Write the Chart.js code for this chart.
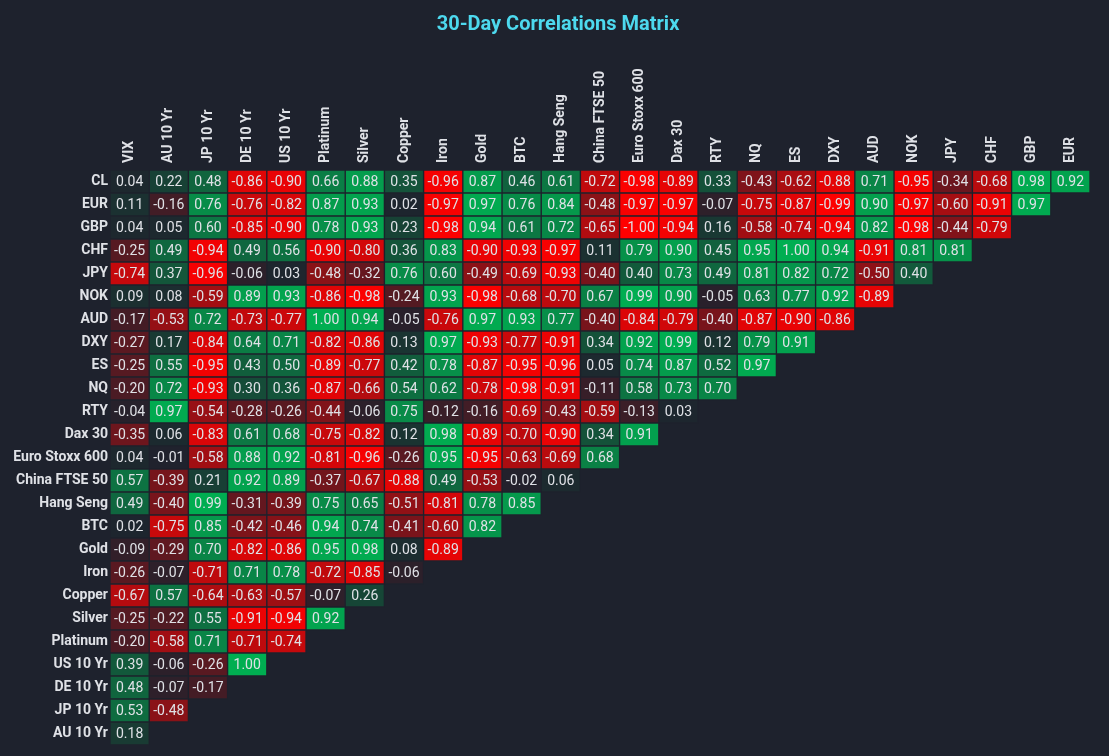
<!DOCTYPE html>
<html>
<head>
<meta charset="utf-8">
<title>30-Day Correlations Matrix</title>
<script src="https://cdn.jsdelivr.net/npm/chart.js@4.4.1/dist/chart.umd.min.js"></script>
<style>
  html, body { margin: 0; padding: 0; background: #1e222d; }
  .wrap { width: 1109px; height: 756px; position: relative; }
</style>
</head>
<body>
<div class="wrap"><canvas id="matrix"></canvas></div>
<script>
// columns across the top, rows down the left side
const columns = ['VIX', 'AU 10 Yr', 'JP 10 Yr', 'DE 10 Yr', 'US 10 Yr', 'Platinum', 'Silver', 'Copper',
    'Iron', 'Gold', 'BTC', 'Hang Seng', 'China FTSE 50', 'Euro Stoxx 600', 'Dax 30', 'RTY', 'NQ', 'ES',
    'DXY', 'AUD', 'NOK', 'JPY', 'CHF', 'GBP', 'EUR'];

const rows = ['CL', 'EUR', 'GBP', 'CHF', 'JPY', 'NOK', 'AUD', 'DXY', 'ES', 'NQ', 'RTY', 'Dax 30',
    'Euro Stoxx 600', 'China FTSE 50', 'Hang Seng', 'BTC', 'Gold', 'Iron', 'Copper', 'Silver',
    'Platinum', 'US 10 Yr', 'DE 10 Yr', 'JP 10 Yr', 'AU 10 Yr'];

// one list per row, in column order (triangle, so rows get shorter)
const correlations = [
    [0.04, 0.22, 0.48, -0.86, -0.90, 0.66, 0.88, 0.35, -0.96, 0.87, 0.46, 0.61, -0.72, -0.98, -0.89, 0.33, -0.43, -0.62, -0.88, 0.71, -0.95, -0.34, -0.68, 0.98, 0.92],
    [0.11, -0.16, 0.76, -0.76, -0.82, 0.87, 0.93, 0.02, -0.97, 0.97, 0.76, 0.84, -0.48, -0.97, -0.97, -0.07, -0.75, -0.87, -0.99, 0.90, -0.97, -0.60, -0.91, 0.97],
    [0.04, 0.05, 0.60, -0.85, -0.90, 0.78, 0.93, 0.23, -0.98, 0.94, 0.61, 0.72, -0.65, -1.00, -0.94, 0.16, -0.58, -0.74, -0.94, 0.82, -0.98, -0.44, -0.79],
    [-0.25, 0.49, -0.94, 0.49, 0.56, -0.90, -0.80, 0.36, 0.83, -0.90, -0.93, -0.97, 0.11, 0.79, 0.90, 0.45, 0.95, 1.00, 0.94, -0.91, 0.81, 0.81],
    [-0.74, 0.37, -0.96, -0.06, 0.03, -0.48, -0.32, 0.76, 0.60, -0.49, -0.69, -0.93, -0.40, 0.40, 0.73, 0.49, 0.81, 0.82, 0.72, -0.50, 0.40],
    [0.09, 0.08, -0.59, 0.89, 0.93, -0.86, -0.98, -0.24, 0.93, -0.98, -0.68, -0.70, 0.67, 0.99, 0.90, -0.05, 0.63, 0.77, 0.92, -0.89],
    [-0.17, -0.53, 0.72, -0.73, -0.77, 1.00, 0.94, -0.05, -0.76, 0.97, 0.93, 0.77, -0.40, -0.84, -0.79, -0.40, -0.87, -0.90, -0.86],
    [-0.27, 0.17, -0.84, 0.64, 0.71, -0.82, -0.86, 0.13, 0.97, -0.93, -0.77, -0.91, 0.34, 0.92, 0.99, 0.12, 0.79, 0.91],
    [-0.25, 0.55, -0.95, 0.43, 0.50, -0.89, -0.77, 0.42, 0.78, -0.87, -0.95, -0.96, 0.05, 0.74, 0.87, 0.52, 0.97],
    [-0.20, 0.72, -0.93, 0.30, 0.36, -0.87, -0.66, 0.54, 0.62, -0.78, -0.98, -0.91, -0.11, 0.58, 0.73, 0.70],
    [-0.04, 0.97, -0.54, -0.28, -0.26, -0.44, -0.06, 0.75, -0.12, -0.16, -0.69, -0.43, -0.59, -0.13, 0.03],
    [-0.35, 0.06, -0.83, 0.61, 0.68, -0.75, -0.82, 0.12, 0.98, -0.89, -0.70, -0.90, 0.34, 0.91],
    [0.04, -0.01, -0.58, 0.88, 0.92, -0.81, -0.96, -0.26, 0.95, -0.95, -0.63, -0.69, 0.68],
    [0.57, -0.39, 0.21, 0.92, 0.89, -0.37, -0.67, -0.88, 0.49, -0.53, -0.02, 0.06],
    [0.49, -0.40, 0.99, -0.31, -0.39, 0.75, 0.65, -0.51, -0.81, 0.78, 0.85],
    [0.02, -0.75, 0.85, -0.42, -0.46, 0.94, 0.74, -0.41, -0.60, 0.82],
    [-0.09, -0.29, 0.70, -0.82, -0.86, 0.95, 0.98, 0.08, -0.89],
    [-0.26, -0.07, -0.71, 0.71, 0.78, -0.72, -0.85, -0.06],
    [-0.67, 0.57, -0.64, -0.63, -0.57, -0.07, 0.26],
    [-0.25, -0.22, 0.55, -0.91, -0.94, 0.92],
    [-0.20, -0.58, 0.71, -0.71, -0.74],
    [0.39, -0.06, -0.26, 1.00],
    [0.48, -0.07, -0.17],
    [0.53, -0.48],
    [0.18]
];

const BG = '#1e222d';
const TEXT = '#dfe1e6';
const LABEL_FONT = 'bold 14px Roboto';

// dark background at 0, green towards +1, red towards -1
function cellColor(v) {
    const base = [30, 34, 45];
    const end = v >= 0 ? [0, 174, 81] : [255, 0, 0];
    const t = Math.min(Math.abs(v), 1);
    const c = base.map((b, k) => Math.round(b + (end[k] - b) * t));
    return 'rgb(' + c.join(',') + ')';
}

// one floating-bar dataset per column, spanning [col, col + 1] on the x scale
const datasets = columns.map(function (col, j) {
    return {
        label: col,
        data: rows.map((r, i) => j < correlations[i].length ? [j, j + 1] : null),
        backgroundColor: rows.map((r, i) => j < correlations[i].length ? cellColor(correlations[i][j]) : 'transparent'),
        borderColor: BG,
        borderWidth: 1,
        borderSkipped: false,
        grouped: false,
        barPercentage: 1,
        categoryPercentage: 1
    };
});

// write the value in the middle of each cell
const cellText = {
    id: 'cellText',
    afterDatasetsDraw(chart) {
        const ctx = chart.ctx;
        ctx.save();
        ctx.font = '14px Roboto';
        ctx.fillStyle = TEXT;
        ctx.textAlign = 'center';
        ctx.textBaseline = 'middle';
        chart.data.datasets.forEach(function (ds, j) {
            chart.getDatasetMeta(j).data.forEach(function (bar, i) {
                if (ds.data[i] == null) return;
                const p = bar.getProps(['x', 'y', 'base'], true);
                ctx.fillText(correlations[i][j].toFixed(2), (p.x + p.base) / 2, p.y + 1);
            });
        });
        ctx.restore();
    }
};

// column names, turned upright, centred over each column of the x scale
const columnLabels = {
    id: 'columnLabels',
    afterDraw(chart) {
        const ctx = chart.ctx;
        const xs = chart.scales.x;
        const top = chart.chartArea.top;
        ctx.save();
        ctx.font = LABEL_FONT;
        ctx.fillStyle = TEXT;
        ctx.textAlign = 'left';
        ctx.textBaseline = 'middle';
        columns.forEach(function (c, j) {
            ctx.save();
            ctx.translate(xs.getPixelForValue(j + 0.5), top - 7);
            ctx.rotate(-Math.PI / 2);
            ctx.fillText(c, 0, 0);
            ctx.restore();
        });
        ctx.restore();
    }
};

const config = {
    type: 'bar',
    data: { labels: rows, datasets: datasets },
    options: {
        indexAxis: 'y',
        responsive: true,
        maintainAspectRatio: false,
        animation: false,
        layout: { padding: { left: 7, right: 0, top: 0, bottom: 11 } },
        plugins: {
            legend: { display: false },
            tooltip: { enabled: false },
            title: {
                display: true,
                text: '30-Day Correlations Matrix',
                color: '#4dd9ee',
                font: { family: 'Roboto', size: 20, weight: 'bold' },
                padding: { top: 13, bottom: 7 }
            }
        },
        scales: {
            x: {
                type: 'linear',
                position: 'top',
                min: 0,
                max: columns.length,
                grid: { display: false, drawTicks: false },
                border: { display: false },
                afterFit: function (axis) { axis.height = 126; },
                ticks: { display: false }
            },
            y: {
                grid: { display: false, drawTicks: false },
                border: { display: false },
                afterFit: function (axis) { axis.width = 103; },
                ticks: {
                    padding: 2,
                    color: TEXT,
                    font: { family: 'Roboto', size: 14, weight: 'bold' }
                }
            },
            // empty strip on the right, keeps the grid off the edge
            yRight: {
                type: 'category',
                position: 'right',
                grid: { display: false, drawTicks: false },
                border: { display: false },
                ticks: { display: false },
                afterFit: function (axis) { axis.width = 19; }
            }
        }
    },
    plugins: [cellText, columnLabels]
};

let matrix = new Chart(document.getElementById('matrix'), config);
</script>
</body>
</html>
